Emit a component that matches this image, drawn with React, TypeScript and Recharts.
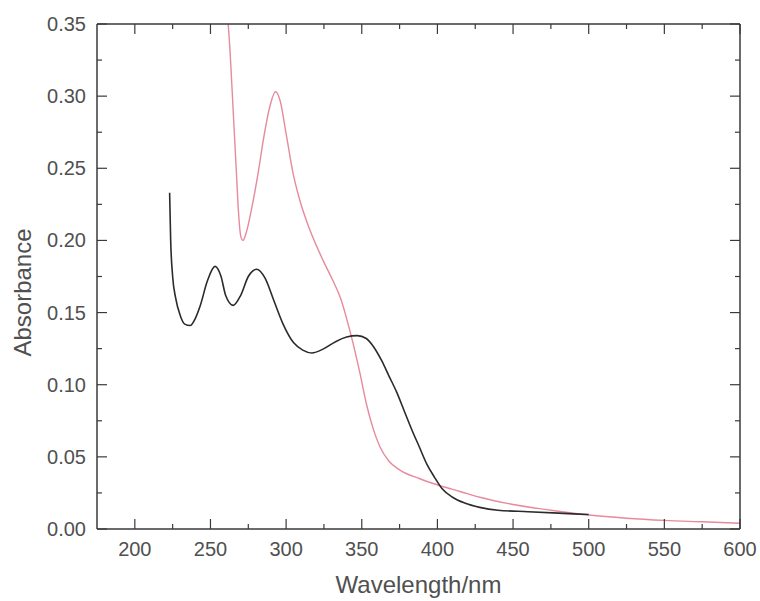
import React from "react";
import { Line, LineChart, XAxis, YAxis } from "recharts";

// black curve
const blackWavelength = [223, 223.7, 225, 227, 230, 233, 236.5, 240, 243, 248, 253, 257, 260, 265, 270, 275, 280.5, 286, 292, 298, 305, 311, 317, 325, 333, 340, 347, 353, 358, 363, 368, 373, 378, 383, 388, 393, 398, 403, 410, 418, 428, 440, 460, 480, 500];
const blackAbsorbance = [0.233, 0.2, 0.175, 0.16, 0.148, 0.142, 0.141, 0.146, 0.154, 0.172, 0.182, 0.175, 0.162, 0.155, 0.162, 0.175, 0.18, 0.174, 0.158, 0.142, 0.129, 0.124, 0.122, 0.125, 0.13, 0.133, 0.134, 0.132, 0.126, 0.117, 0.106, 0.095, 0.082, 0.069, 0.057, 0.045, 0.036, 0.028, 0.022, 0.018, 0.015, 0.013, 0.012, 0.011, 0.01];

// pink curve
const pinkWavelength = [261, 263, 265, 267, 268.5, 270, 271.5, 273.5, 278.3, 282, 285, 289.3, 293, 296, 300, 304.5, 309, 315.8, 324.5, 331, 336, 342, 348.8, 353, 358, 362, 368, 375, 388, 401.7, 415, 428, 450, 475, 500, 525, 550, 575, 600];
const pinkAbsorbance = [0.36, 0.33, 0.29, 0.25, 0.22, 0.203, 0.2, 0.205, 0.228, 0.25, 0.27, 0.293, 0.303, 0.297, 0.274, 0.247, 0.228, 0.207, 0.186, 0.172, 0.16, 0.138, 0.108, 0.087, 0.068, 0.057, 0.047, 0.041, 0.035, 0.03, 0.026, 0.022, 0.017, 0.013, 0.0097, 0.0075, 0.006, 0.005, 0.004];

const xTicks = [200, 225, 250, 275, 300, 325, 350, 375, 400, 425, 450, 475, 500, 525, 550, 575, 600];
const yTicks = [0, 0.025, 0.05, 0.075, 0.1, 0.125, 0.15, 0.175, 0.2, 0.225, 0.25, 0.275, 0.3, 0.325, 0.35];

const blackData = blackWavelength.map((wl, i) => ({ wl, abs: blackAbsorbance[i] }));
const pinkData = pinkWavelength.map((wl, i) => ({ wl, abs: pinkAbsorbance[i] }));

const AXIS = "#3a3a3a";
const TEXT = "#505050";
const FONT = "Liberation Sans, Arial, sans-serif";

const isMajorX = (v: number) => v % 50 === 0;
const isMajorY = (v: number) => Math.round(v * 1000) % 50 === 0;

// ticks point inward, like the original plot
const BottomTick = ({ x, y, payload }: any) => {
  const major = isMajorX(payload.value);
  return (
    <g>
      <line x1={x} y1={y} x2={x} y2={y - (major ? 10 : 5)} stroke={AXIS} strokeWidth={1.2} />
      {major && (
        <text x={x} y={y + 27} textAnchor="middle" fontSize={20} fill={TEXT} fontFamily={FONT}>
          {payload.value}
        </text>
      )}
    </g>
  );
};

const TopTick = ({ x, y, payload }: any) => {
  const major = isMajorX(payload.value);
  return <line x1={x} y1={y} x2={x} y2={y + (major ? 10 : 5)} stroke={AXIS} strokeWidth={1.2} />;
};

const LeftTick = ({ x, y, payload }: any) => {
  const major = isMajorY(payload.value);
  return (
    <g>
      <line x1={x} y1={y} x2={x + (major ? 10 : 5)} y2={y} stroke={AXIS} strokeWidth={1.2} />
      {major && (
        <text x={x - 11} y={y + 7} textAnchor="end" fontSize={20} fill={TEXT} fontFamily={FONT}>
          {payload.value.toFixed(2)}
        </text>
      )}
    </g>
  );
};

const RightTick = ({ x, y, payload }: any) => {
  const major = isMajorY(payload.value);
  return <line x1={x} y1={y} x2={x - (major ? 10 : 5)} y2={y} stroke={AXIS} strokeWidth={1.2} />;
};

const AbsorbanceLabel = ({ viewBox }: any) => {
  const cx = 22;
  const cy = viewBox.y + viewBox.height / 2 + 16;
  return (
    <text x={cx} y={cy} transform={`rotate(-90 ${cx} ${cy})`} textAnchor="middle" dominantBaseline="central" fontSize={24} fill={TEXT} fontFamily={FONT}>
      Absorbance
    </text>
  );
};

export default function App() {
  return (
    <div style={{ position: "absolute", left: 0, top: 0, background: "#fff" }}>
      <LineChart
        width={760}
        height={601}
        margin={{ top: 23, right: 19, bottom: 0, left: 0 }}
      >
        <XAxis
          dataKey="wl"
          type="number"
          domain={[175, 600]}
          ticks={xTicks}
          allowDataOverflow
          height={72}
          stroke={AXIS}
          strokeWidth={1.5}
          tickLine={false}
          tickSize={0}
          tickMargin={0}
          tick={<BottomTick />}
          interval={0}
          label={{ value: "Wavelength/nm", position: "insideBottom", offset: 8, fontSize: 24, fill: TEXT, fontFamily: FONT }}
        />
        <XAxis
          xAxisId="top"
          orientation="top"
          dataKey="wl"
          type="number"
          domain={[175, 600]}
          ticks={xTicks}
          allowDataOverflow
          height={1}
          stroke={AXIS}
          strokeWidth={1.5}
          tickLine={false}
          tickSize={0}
          tickMargin={0}
          tick={<TopTick />}
          interval={0}
        />
        <YAxis
          type="number"
          domain={[0, 0.35]}
          ticks={yTicks}
          allowDataOverflow
          width={97}
          stroke={AXIS}
          strokeWidth={1.5}
          tickLine={false}
          tickSize={0}
          tickMargin={0}
          tick={<LeftTick />}
          interval={0}
          label={<AbsorbanceLabel />}
        />
        <YAxis
          yAxisId="right"
          orientation="right"
          type="number"
          domain={[0, 0.35]}
          ticks={yTicks}
          allowDataOverflow
          width={1}
          stroke={AXIS}
          strokeWidth={1.5}
          tickLine={false}
          tickSize={0}
          tickMargin={0}
          tick={<RightTick />}
          interval={0}
        />
        <Line
          data={pinkData}
          dataKey="abs"
          type="monotone"
          stroke="#e68a9c"
          strokeWidth={1.4}
          dot={false}
          isAnimationActive={false}
        />
        <Line
          data={blackData}
          dataKey="abs"
          type="monotone"
          stroke="#2b2b2b"
          strokeWidth={1.6}
          dot={false}
          isAnimationActive={false}
        />
      </LineChart>
    </div>
  );
}
